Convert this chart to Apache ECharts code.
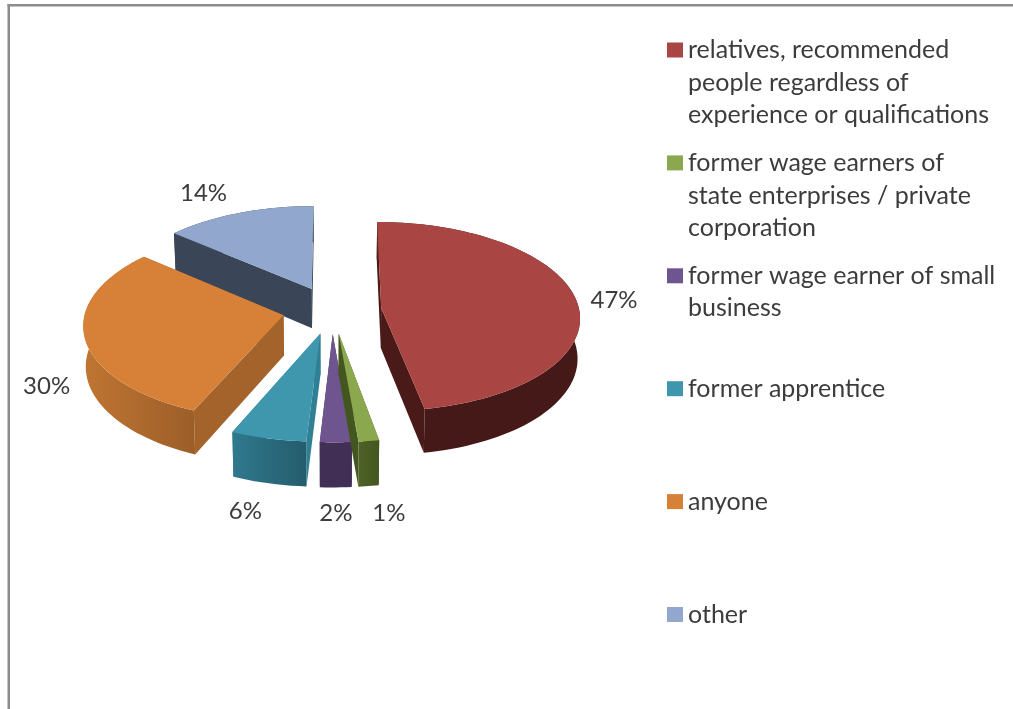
<!DOCTYPE html>
<html>
<head>
<meta charset="utf-8">
<style>html,body{margin:0;padding:0;background:#fff}#c{width:1013px;height:709px}</style>
<script src="https://cdn.jsdelivr.net/npm/echarts@6/dist/echarts.min.js"></script>
</head>
<body>
<div id="c"></div>
<script>
// Data (shown rounded to whole percents)
var categories = [
  'relatives, recommended\npeople regardless of\nexperience or qualifications',
  'former wage earners of\nstate enterprises / private\ncorporation',
  'former wage earner of small\nbusiness',
  'former apprentice',
  'anyone',
  'other'
];
var shares = [47.14, 1.49, 2.3, 5.5, 29.9, 13.67];

// Styles
var topColors  = ['#A94543', '#8BA84E', '#6F5590', '#3F97AE', '#D78138', '#92A7CE'];
var edgeColors = ['#4A1A18', '#44561F', '#412F55', '#2F7F95', '#A4632B', '#3B4558'];
var rimFrom    = ['#5C2624', '#4E6227', '#412F55', '#30798E', '#C07532', '#3B4558'];
var rimTo      = ['#451917', '#44561F', '#412F55', '#245C6C', '#9C5E29', '#3B4558'];
var sliceLayers = [2, 3, 2, 2, 2, 1];
var labelNudges = [[38, 1], [20, 72], [0, 70.5], [-23, 73], [-38, 49], [-35, -20]];

// 3D pie layout (projection parameters only)
var CX = 332, CY = 310, RX = 198, RY = 94, PERSP = 0.09, DEPTH = 40, EXPLODE = 0.25, START_DEG = 0;
var FONT = 'Lato, Carlito, sans-serif', TEXT = '#3c3c3c', FS = 24, LEGEND_FS = 25;
var LEGEND_LH = 32.6, LEGEND_Y0 = 50, LEGEND_STEP = 112.9, LEGEND_X = 667;

var total = shares.reduce(function (a, b) { return a + b; }, 0);
function rad(d) { return d * Math.PI / 180; }
function project(X, Y, lower) {
  var s = 1 / (1 - PERSP * Y);
  var px = CX + X * RX * s, py = CY + Y * RY * s;
  if (lower) { px = CX + (px - CX) * 0.99; py += DEPTH * s; }
  return [px, py];
}
function sliceItem(i) {
  return function (params, api) {
    var v = api.value(0), before = 0;
    for (var k = 0; k < i; k++) before += shares[k];
    var a0 = START_DEG + before / total * 360, a1 = a0 + v / total * 360, mid = (a0 + a1) / 2;
    var ox = EXPLODE * Math.sin(rad(mid)), oy = -EXPLODE * Math.cos(rad(mid));
    var at = function (deg, r) { return [ox + r * Math.sin(rad(deg)), oy - r * Math.cos(rad(deg))]; };
    var arcTop = [], arcBot = [], n = Math.max(6, Math.ceil((a1 - a0) / 2));
    for (var j = 0; j <= n; j++) {
      var p = at(a0 + (a1 - a0) * j / n, 1);
      arcTop.push(project(p[0], p[1], false));
      arcBot.push(project(p[0], p[1], true));
    }
    var apexT = project(ox, oy, false), apexB = project(ox, oy, true);
    var poly = function (pts, fill) {
      return { type: 'polygon', shape: { points: pts }, style: { fill: fill, stroke: null }, silent: true };
    };
    var children = [
      poly([apexT, arcTop[0], arcBot[0], apexB], edgeColors[i]),
      poly([apexT, arcTop[n], arcBot[n], apexB], edgeColors[i]),
      poly(arcTop.concat(arcBot.slice().reverse()),
        new echarts.graphic.LinearGradient(0, 0, 1, 0, i === 0
          ? [{ offset: 0, color: rimFrom[i] }, { offset: 0.15, color: rimTo[i] }, { offset: 1, color: rimTo[i] }]
          : [{ offset: 0, color: rimFrom[i] }, { offset: 1, color: rimTo[i] }])),
      poly([apexT].concat(arcTop), topColors[i])
    ];
    var lp = at(mid, 1), anchor = project(lp[0], lp[1], false);
    children.push({
      type: 'text', silent: true,
      x: anchor[0] + labelNudges[i][0], y: anchor[1] + labelNudges[i][1],
      style: {
        text: Math.round(v) + '%', fill: TEXT, font: FS + 'px ' + FONT,
        align: 'center', verticalAlign: 'middle'
      }
    });
    return { type: 'group', children: children };
  };
}
var series = categories.map(function (name, i) {
  return {
    type: 'custom', name: name, coordinateSystem: 'none',
    z: sliceLayers[i],
    itemStyle: { color: topColors[i] },
    data: [[shares[i]]],
    renderItem: sliceItem(i),
    silent: true, animation: false
  };
});
var legends = categories.map(function (name, i) {
  var lines = name.split('\n').length;
  return {
    show: true, data: [name], selectedMode: false, orient: 'vertical',
    left: LEGEND_X, top: LEGEND_Y0 + i * LEGEND_STEP - (2 * lines - 1) * LEGEND_LH / 2,
    padding: 0, itemWidth: 16, itemHeight: 15, icon: 'rect',
    formatter: function (n) { return new Array(lines).join('\n') + n; },
    textStyle: { fontFamily: FONT, fontSize: LEGEND_FS, color: TEXT, lineHeight: LEGEND_LH }
  };
});
var chart = echarts.init(document.getElementById('c'), null, { renderer: 'canvas' });
chart.setOption({
  backgroundColor: '#fff',
  animation: false,
  tooltip: { show: false },
  legend: legends,
  graphic: [
    { type: 'rect', silent: true, shape: { x: 7.5, y: 4, width: 2.5, height: 705 }, style: { fill: '#8c8c8c' } },
    { type: 'rect', silent: true, shape: { x: 7.5, y: 4, width: 1006, height: 2.5 }, style: { fill: '#8c8c8c' } }
  ],
  series: series
});
</script>
</body>
</html>
